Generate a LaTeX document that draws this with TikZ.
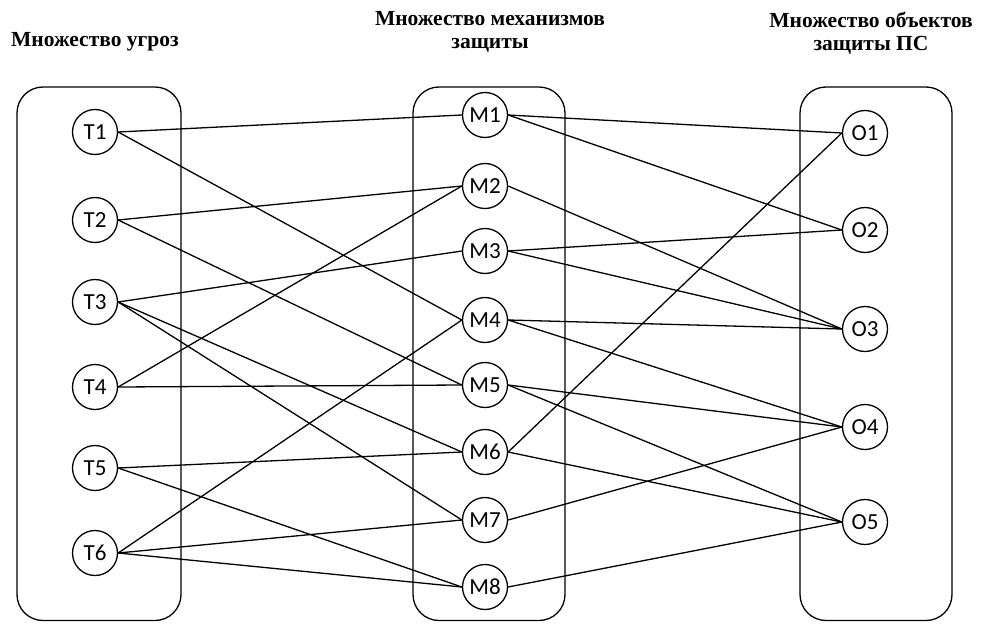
\documentclass[tikz,border=0pt]{standalone}
\usepackage{fontspec}
\setmainfont{Liberation Serif}
\newfontfamily\labelfont{Carlito}
\begin{document}
\begin{tikzpicture}[x=1pt,y=-1pt,
  setbox/.style={draw, line width=1.3pt, rounded corners=26pt},
  elem/.style={circle, draw, line width=1.3pt, minimum size=45pt, inner sep=0pt,
    font=\labelfont\fontsize{23}{23}\selectfont},
  link/.style={line width=1.3pt},
  heading/.style={font=\bfseries\fontsize{21.5}{23}\selectfont, align=center, inner sep=0pt}]
\useasboundingbox (0,0) rectangle (981,623);

% the three sets
\draw[setbox] (17,87) rectangle (181,620.5);
\draw[setbox] (413,87) rectangle (565,620.5);
\draw[setbox] (800,87) rectangle (952,620.5);

% headings
\node[heading, anchor=west] (hT) at (11,42) {Множество угроз};
\node[heading] (hM) at (490,32) {Множество механизмов\\защиты};
\node[heading] (hO) at (871,33) {Множество объектов\\защиты ПС};

% threats
\node[elem] (T1) at (95,132) {T1};
\node[elem] (T2) at (95,220) {T2};
\node[elem] (T3) at (95,302) {T3};
\node[elem] (T4) at (95,387) {T4};
\node[elem] (T5) at (95,468) {T5};
\node[elem] (T6) at (95,553) {T6};

% protection mechanisms
\node[elem] (M1) at (485,115) {M1};
\node[elem] (M2) at (485,186) {M2};
\node[elem] (M3) at (485,251) {M3};
\node[elem] (M4) at (485,320) {M4};
\node[elem] (M5) at (485,385) {M5};
\node[elem] (M6) at (485,452) {M6};
\node[elem] (M7) at (485,520) {M7};
\node[elem] (M8) at (485,587) {M8};

% protected objects
\node[elem] (O1) at (865,133) {O1};
\node[elem] (O2) at (865,230) {O2};
\node[elem] (O3) at (865,329) {O3};
\node[elem] (O4) at (865,427) {O4};
\node[elem] (O5) at (865,522) {O5};

% threats -> mechanisms
\foreach \a/\b in {T1/M1, T1/M4, T2/M2, T2/M5, T3/M3, T3/M6, T3/M7,
                   T4/M2, T4/M5, T5/M6, T5/M8, T6/M4, T6/M7, T6/M8}
  \draw[link] (\a.east) -- (\b.west);

% mechanisms -> objects
\foreach \a/\b in {M1/O1, M1/O2, M2/O3, M3/O2, M3/O3, M4/O3, M4/O4,
                   M5/O4, M5/O5, M6/O1, M6/O5, M7/O4, M8/O5}
  \draw[link] (\a.east) -- (\b.west);
\end{tikzpicture}
\end{document}
